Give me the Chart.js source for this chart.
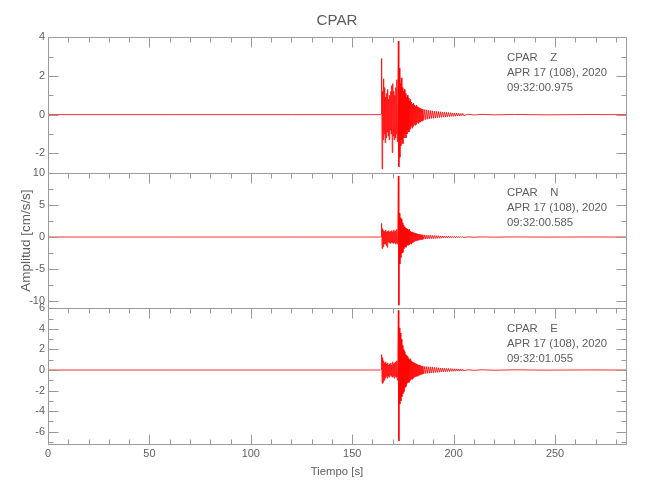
<!DOCTYPE html>
<html><head><meta charset="utf-8">
<script src="https://cdn.jsdelivr.net/npm/chart.js@4.4.1/dist/chart.umd.min.js"></script>
<style>html,body{margin:0;padding:0;background:#fff;}canvas{display:block}</style>
</head><body>
<canvas id="c" width="650" height="500"></canvas>
<script>
// ---- data ----
const timeSec = [0,60,120,164,
164.25,164.5,164.75,165,165.25,165.5,165.75,166,166.25,166.5,166.75,167,167.25,167.5,167.75,168,168.25,168.5,168.75,169,169.25,169.5,169.75,170,170.25,170.5,170.75,171,171.25,171.5,171.75,172,172.25,172.5,172.75,173,173.25,173.5,173.75,174,174.25,174.5,174.75,175,175.25,175.5,175.75,176,176.25,176.5,176.75,177,177.25,177.5,177.75,178,178.25,178.5,178.75,179,179.25,179.5,179.75,180,180.25,180.5,180.75,181,181.25,181.5,181.75,182,182.25,182.5,182.75,183,183.25,183.5,183.75,184,184.25,184.5,184.75,185,
185.5,186,186.5,187,187.5,188,188.5,189,189.5,190,190.5,191,191.5,192,192.5,193,193.5,194,194.5,195,195.5,196,196.5,197,197.5,198,198.5,199,199.5,200,200.5,201,201.5,202,202.5,203,203.5,204,204.5,205,
207,210,214,220,230,245,265,285];

const accZ = [0,0,0,0,
0.05,2.9,-2.8,1.2,-1.3,1.85,-1.0,1.4,-1.45,0.9,-1.2,1.1,-0.9,1.3,-1.1,0.8,-1.3,1.0,-0.8,1.2,-1.0,1.5,-1.96,1.6,-1.1,1.2,-1.3,1.0,-1.2,1.4,-1.0,1.8,-1.4,1.2,3.8,-2.7,2.4,-2.2,1.6,-1.6,1.9,-1.3,1.4,-1.5,1.2,-1.2,1.3,-1.0,1.1,-1.2,0.9,-1.0,1.0,-0.8,0.85,-0.9,0.7,-0.75,0.8,-0.6,0.65,-0.7,0.55,-0.6,0.6,-0.5,0.5,-0.55,0.45,-0.5,0.5,-0.4,0.42,-0.45,0.38,-0.4,0.35,-0.38,0.32,-0.33,0.3,-0.32,0.28,-0.3,
0.27,-0.26,0.25,-0.24,0.23,-0.22,0.22,-0.2,0.2,-0.19,0.18,-0.18,0.17,-0.16,0.16,-0.15,0.15,-0.14,0.14,-0.13,0.13,-0.12,0.12,-0.11,0.11,-0.1,0.1,-0.09,0.09,-0.09,0.08,-0.08,0.08,-0.07,0.07,-0.07,0.06,-0.06,0.06,-0.05,
0.02,-0.02,0.015,-0.01,0.01,-0.01,0.005,0];

const accN = [0,0,0,0,
0.1,2.1,-1.8,1.3,-1.5,1.0,-1.1,0.9,-1.0,1.1,-1.3,0.8,-1.6,0.9,-0.8,1.0,-0.9,0.8,-1.0,0.9,-0.8,1.0,-0.9,0.8,-1.0,1.1,-0.8,0.9,-1.1,1.0,-0.9,1.2,-1.1,1.4,9.5,-10.6,3.7,-4.2,3.0,-3.2,2.8,-2.5,2.2,-2.4,1.8,-1.8,1.6,-1.5,1.4,-1.6,1.3,-1.2,1.2,-1.3,1.1,-1.2,1.2,-1.0,0.9,-1.1,0.8,-0.9,0.8,-0.8,0.7,-0.7,0.65,-0.6,0.6,-0.6,0.55,-0.5,0.5,-0.5,0.45,-0.45,0.42,-0.4,0.4,-0.38,0.36,-0.36,0.34,-0.34,
0.33,-0.32,0.31,-0.3,0.3,-0.28,0.28,-0.26,0.26,-0.25,0.24,-0.23,0.22,-0.21,0.2,-0.19,0.18,-0.17,0.16,-0.15,0.15,-0.14,0.14,-0.13,0.13,-0.12,0.12,-0.11,0.11,-0.1,0.1,-0.1,0.09,-0.09,0.09,-0.08,0.08,-0.08,0.07,-0.07,
0.03,-0.03,0.02,-0.02,0.02,-0.01,0.01,0];

const accE = [0,0,0,0,
0.05,1.5,-1.3,1.2,-1.2,0.9,-1.0,0.7,-0.8,0.8,-0.6,0.6,-0.8,0.7,-0.6,0.5,-0.7,0.6,-0.5,0.7,-0.6,0.5,-0.7,0.8,-0.6,0.6,-0.8,0.7,-0.6,0.8,-0.7,0.9,-1.0,1.2,5.8,-6.9,4.1,-3.3,3.6,-3.0,3.0,-2.6,2.4,-2.3,2.0,-2.1,1.8,-1.7,1.5,-1.6,1.4,-1.3,1.3,-1.2,1.1,-1.2,1.0,-1.0,1.1,-0.9,0.9,-0.9,0.8,-0.8,0.75,-0.7,0.7,-0.65,0.65,-0.6,0.6,-0.6,0.55,-0.55,0.5,-0.5,0.48,-0.45,0.45,-0.42,0.4,-0.4,0.38,-0.38,
0.36,-0.35,0.34,-0.33,0.32,-0.31,0.3,-0.29,0.28,-0.27,0.26,-0.25,0.24,-0.23,0.22,-0.21,0.2,-0.2,0.19,-0.18,0.17,-0.17,0.16,-0.15,0.15,-0.14,0.14,-0.13,0.13,-0.12,0.12,-0.11,0.11,-0.1,0.1,-0.1,0.09,-0.09,0.08,-0.08,
0.03,-0.03,0.02,-0.02,0.02,-0.01,0.01,0];

const xTicks = [0,50,100,150,200,250];
const ticksZ = [-2,0,2,4];
const ticksN = [-10,-5,0,5,10];
const ticksE = [-6,-4,-2,0,2,4,6];
const rangeZ = [-3, 4];
const rangeN = [-11.1, 10];
const rangeE = [-7.2, 6];
const stationLines = ['CPAR    Z', 'CPAR    N', 'CPAR    E'];
const dateLines = ['APR 17 (108), 2020', 'APR 17 (108), 2020', 'APR 17 (108), 2020'];
const timeLines = ['09:32:00.975', '09:32:00.585', '09:32:01.055'];

// ---- style ----
function hasFont(name){
  const c = document.createElement('canvas').getContext('2d');
  const s = 'APR 17 (108), 2020 mmmiiiWW';
  c.font = '40px monospace'; const w0 = c.measureText(s).width;
  c.font = '40px "' + name + '", monospace'; const w1 = c.measureText(s).width;
  return Math.abs(w1 - w0) > 0.5;
}
const NARROW = hasFont('Liberation Sans Narrow');
const FAMILY = NARROW ? '"Liberation Sans Narrow", "Liberation Sans", sans-serif' : '"Liberation Sans", sans-serif';
const SZ = NARROW ? 1 : 0.84;
const TEXT = '#5e5e5e';
const AXIS = '#9a9a9a';
const TRACE = 'rgba(255,0,0,0.82)';

const panelIds = ['yZ','yN','yE'];
const yMajorStep = [2,5,2];
const yMinorStep = [1,2.5,1];
const xMinorStep = 10;
const xMajorStep = 50;

function series(vals){ return timeSec.map((t,i)=>({x:t, y:vals[i]})); }
function ds(vals, axis){
  return {data: series(vals), yAxisID: axis, borderColor: TRACE, borderWidth: 1,
          pointRadius: 0, tension: 0, fill: false};
}
function yScale(range, ticks, showTitle){
  return {
    type:'linear', position:'left', stack:'panels', stackWeight:1,
    min: range[0], max: range[1],
    afterBuildTicks: s => { s.ticks = ticks.map(v => ({value: v})); },
    afterFit: s => { s.width = 48; },
    grid:{display:false, drawTicks:false}, border:{display:false},
    ticks:{color: TEXT, padding: 3, autoSkip: false, font:{family: FAMILY, size: 13*SZ}},
    title:{display: showTitle, text:'Amplitud [cm/s/s]', color: TEXT,
           font:{family: FAMILY, size: 16*SZ}, padding:{top: 18, bottom: 0}}
  };
}

const framePlugin = {
  id: 'frame',
  afterDatasetsDraw(chart){
    const {ctx, chartArea} = chart;
    const xs = chart.scales.x;
    const L = Math.round(chartArea.left) + 0.5, R = Math.round(chartArea.right) + 0.5;
    ctx.save();
    ctx.strokeStyle = AXIS; ctx.lineWidth = 1;
    ctx.beginPath();
    panelIds.forEach((id, p) => {
      const s = chart.scales[id];
      const T = Math.round(s.top) + 0.5, B = Math.round(s.bottom) + 0.5;
      ctx.moveTo(L, T); ctx.lineTo(R, T); ctx.lineTo(R, B); ctx.lineTo(L, B); ctx.closePath();
      const st = yMinorStep[p];
      for (let k = Math.ceil(s.min / st - 1e-9); k * st <= s.max + 1e-9; k++) {
        const v = k * st;
        const r = v / yMajorStep[p];
        const len = Math.abs(r - Math.round(r)) < 1e-6 ? 10 : 5;
        const y = Math.round(s.getPixelForValue(v)) + 0.5;
        ctx.moveTo(L, y); ctx.lineTo(L + len, y);
        ctx.moveTo(R, y); ctx.lineTo(R - len, y);
      }
      for (let k = 0; k * xMinorStep <= xs.max + 1e-9; k++) {
        const v = k * xMinorStep;
        const r = v / xMajorStep;
        const len = Math.abs(r - Math.round(r)) < 1e-6 ? 10 : 5;
        const x = Math.round(xs.getPixelForValue(v)) + 0.5;
        ctx.moveTo(x, T); ctx.lineTo(x, T + len);
        if (p === panelIds.length - 1) { ctx.moveTo(x, B); ctx.lineTo(x, B - len); }
      }
    });
    ctx.stroke();
    ctx.fillStyle = TEXT;
    ctx.font = (13.5 * SZ) + 'px ' + FAMILY;
    ctx.textAlign = 'left'; ctx.textBaseline = 'middle';
    panelIds.forEach((id, p) => {
      const s = chart.scales[id];
      const tx = chartArea.left + 459;
      [stationLines[p], dateLines[p], timeLines[p]].forEach((ln, j) => {
        ctx.fillText(ln, tx, s.top + 20.5 + 15 * j);
      });
    });
    ctx.restore();
  }
};

new Chart(document.getElementById('c'), {
  type: 'line',
  data: { datasets: [ds(accZ,'yZ'), ds(accN,'yN'), ds(accE,'yE')] },
  options: {
    responsive: false, animation: false, devicePixelRatio: 1,
    layout: {padding: {left: 0, right: 24, top: 0, bottom: 0}},
    plugins: {
      legend: {display: false}, tooltip: {enabled: false},
      title: {display: true, text: 'CPAR', color: TEXT, fullSize: false,
              font: {family: FAMILY, size: 18 * SZ, weight: 'normal'}, padding: {top: 12, bottom: 7}}
    },
    scales: {
      x: {
        type: 'linear', min: 0, max: 285,
        afterBuildTicks: s => { s.ticks = xTicks.map(v => ({value: v})); },
        afterFit: s => { s.height = 56; },
        grid: {display: false, drawTicks: false}, border: {display: false},
        ticks: {color: TEXT, padding: 3, maxRotation: 0, autoSkip: false, font: {family: FAMILY, size: 13 * SZ}},
        title: {display: true, text: 'Tiempo [s]', color: TEXT,
                font: {family: FAMILY, size: 13.5 * SZ}, padding: {top: 4, bottom: 21}}
      },
      yE: yScale(rangeE, ticksE, false),
      yN: yScale(rangeN, ticksN, true),
      yZ: yScale(rangeZ, ticksZ, false)
    }
  },
  plugins: [framePlugin]
});
</script>
</body></html>
